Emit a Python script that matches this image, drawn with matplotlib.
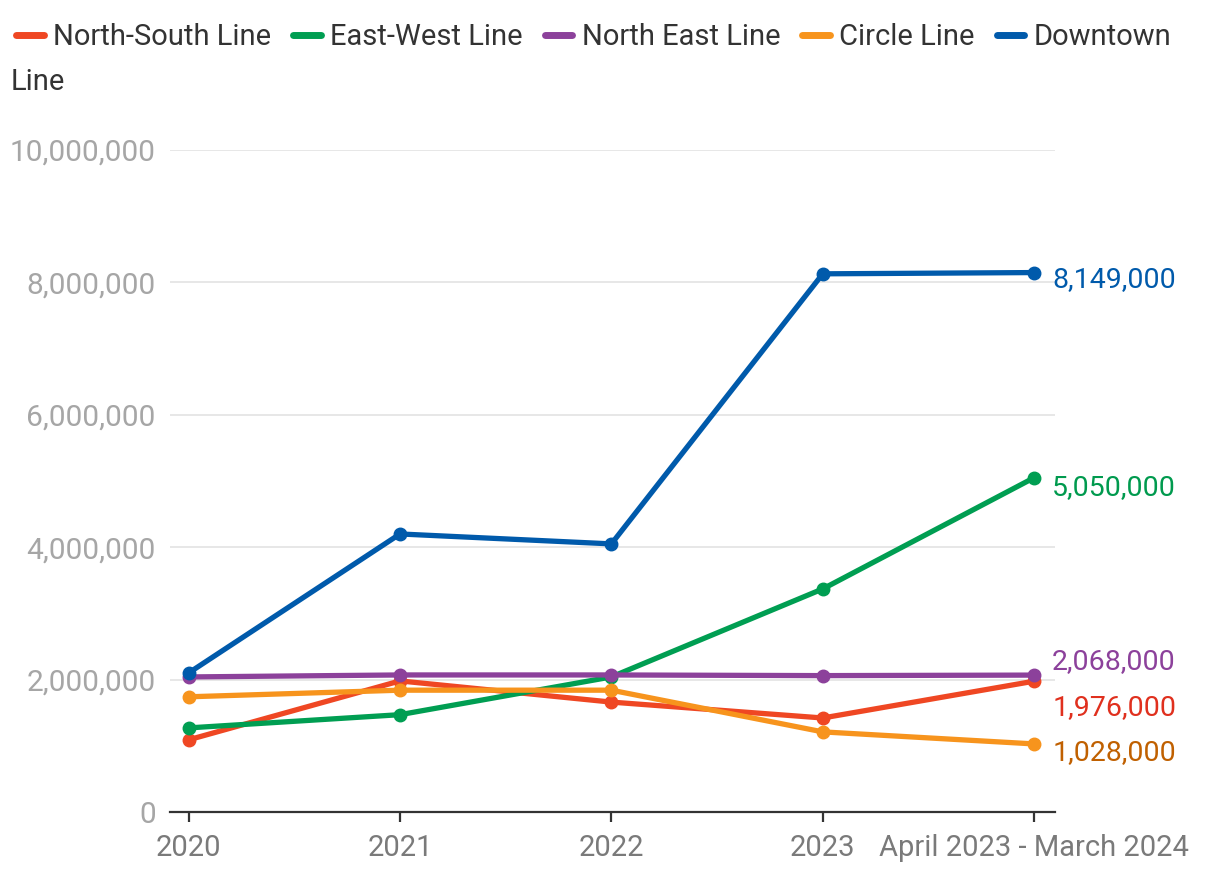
import matplotlib.pyplot as plt
from matplotlib.lines import Line2D
from matplotlib.ticker import FuncFormatter

plt.rcParams['font.family'] = ['Roboto', 'DejaVu Sans']

# data
periods = ['2020', '2021', '2022', '2023', 'April 2023 - March 2024']
lines = ['North-South Line', 'East-West Line', 'North East Line', 'Circle Line', 'Downtown Line']
north_south = [1090000, 1980000, 1660000, 1420000, 1976000]
east_west = [1270000, 1470000, 2040000, 3370000, 5050000]
north_east = [2040000, 2070000, 2070000, 2060000, 2068000]
circle = [1740000, 1840000, 1840000, 1210000, 1028000]
downtown = [2100000, 4200000, 4050000, 8130000, 8149000]

series = [north_south, east_west, north_east, circle, downtown]
line_colors = ['#ef4723', '#009e52', '#8c419b', '#f7941d', '#005aab']
label_colors = ['#e0301e', '#009a4e', '#8c419b', '#c06000', '#005aab']
# vertical nudge of the end labels (points)
label_dy = [-19, -7, 10, -6, -5]

fig = plt.figure(figsize=(12.2, 8.8), dpi=100)
ax = fig.add_axes([0.139, 0.0773, 0.726, 0.7522])

x = list(range(len(periods)))
for vals, c in zip(series, line_colors):
    ax.plot(x, vals, color=c, lw=3.8, marker='o', ms=9,
            solid_capstyle='round', clip_on=False)

for vals, c, dy in zip(series, label_colors, label_dy):
    ax.annotate(f'{vals[-1]:,}', (x[-1], vals[-1]), xytext=(13, dy),
                textcoords='offset points', color=c, fontsize=20.5,
                va='center', ha='left', annotation_clip=False)

ax.set_xlim(-0.09, 4.1)
ax.set_ylim(0, 10000000)
ax.set_yticks(range(0, 10000001, 2000000))
ax.yaxis.set_major_formatter(FuncFormatter(lambda v, p: f'{int(v):,}'))
ax.set_xticks(x)
ax.set_xticklabels(periods)

ax.grid(axis='y', color='#e3e3e3', lw=1.2)
ax.set_axisbelow(True)
for s in ['top', 'right', 'left']:
    ax.spines[s].set_visible(False)
ax.spines['bottom'].set_color('#333333')
ax.spines['bottom'].set_linewidth(1.6)
ax.tick_params(axis='y', length=0, labelsize=21.5, labelcolor='#a6a6a6', pad=10)
ax.tick_params(axis='x', length=7, width=1.6, color='#333333', labelsize=21,
               labelcolor='#7a7a7a', pad=9)

handles = [Line2D([], [], color=c, lw=5, solid_capstyle='round') for c in line_colors]
leg_labels = lines[:4] + ['Downtown']
fig.legend(handles, leg_labels, loc='upper left', bbox_to_anchor=(0.0, 0.992),
           ncol=5, frameon=False, fontsize=21, handlelength=0.95,
           handletextpad=0.32, columnspacing=0.75, labelcolor='#333333',
           borderaxespad=0.2, borderpad=0.35)
fig.text(0.009, 0.907, 'Line', fontsize=21, color='#333333', va='center')

fig.savefig('out.png', dpi=100)
